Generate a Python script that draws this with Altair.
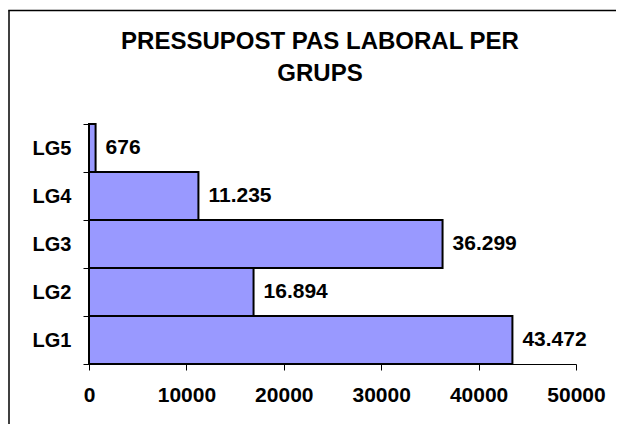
import altair as alt
import pandas as pd

groups = ["LG1", "LG2", "LG3", "LG4", "LG5"]
values = [43472, 16894, 36299, 11235, 676]
x_ticks = [0, 10000, 20000, 30000, 40000, 50000]
title_lines = ["PRESSUPOST PAS LABORAL PER", "GRUPS"]

df = pd.DataFrame({"group": groups, "value": values})
df["label"] = [f"{v:,}".replace(",", ".") for v in values]

FONT = "Liberation Sans"
order = list(reversed(groups))

base = alt.Chart(df)

bars = base.mark_bar(color="#9999FF", stroke="black", strokeWidth=2).encode(
    x=alt.X("value:Q",
            scale=alt.Scale(domain=[0, 50000], nice=False),
            axis=alt.Axis(values=x_ticks, format="d", title=None, grid=False,
                          labelFont=FONT, labelFontSize=21, labelFontWeight="bold",
                          labelColor="black", tickColor="black", domainColor="black",
                          tickSize=6, labelPadding=14, labelFlush=False)),
    y=alt.Y("group:N", sort=order,
            scale=alt.Scale(paddingInner=0, paddingOuter=0),
            axis=alt.Axis(title=None, grid=False, tickBand="extent",
                          labelFont=FONT, labelFontSize=20, labelFontWeight="bold",
                          labelColor="black", tickColor="black", domainColor="black",
                          tickSize=6, labelPadding=12)),
)

labels = base.mark_text(align="left", baseline="middle", dx=10, font=FONT,
                        fontSize=21, fontWeight="bold", color="black").encode(
    x="value:Q",
    y=alt.Y("group:N", sort=order),
    text="label:N",
)

one = alt.Data(values=[{}])

frame_left = alt.Chart(one).mark_rule(color="black", strokeWidth=1.5).encode(
    x=alt.value(-80), y=alt.value(-113.5), y2=alt.value(320),
)
frame_top = alt.Chart(one).mark_rect(color="black", strokeWidth=0).encode(
    x=alt.value(-80.75), x2=alt.value(527),
    y=alt.value(-114.25), y2=alt.value(-112.75),
)

title = alt.Chart(one).mark_text(
    text=title_lines, font=FONT, fontSize=24, fontWeight="bold", color="black",
    align="center", baseline="alphabetic", lineHeight=32,
).encode(x=alt.value(231), y=alt.value(-75))

chart = alt.layer(frame_left, frame_top, title, bars, labels).properties(
    width=487, height=240,
    padding={"left": 81, "top": 116, "right": 40, "bottom": 60},
    autosize=alt.AutoSizeParams(type="none"),
    background="white",
).configure_view(strokeWidth=0, stroke=None)

chart.save("out.html", embed_options={"renderer": "svg", "actions": False})
